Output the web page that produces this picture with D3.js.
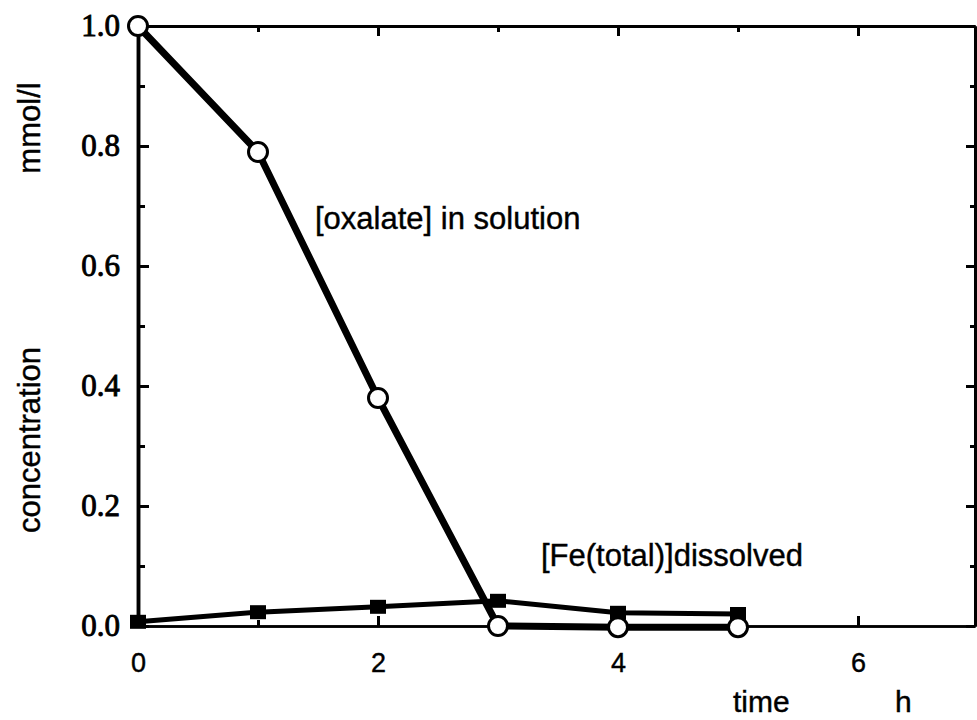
<!DOCTYPE html>
<html>
<head>
<meta charset="utf-8">
<script src="https://cdn.jsdelivr.net/npm/d3@7"></script>
<style>
  html, body { margin: 0; padding: 0; background: #fff; }
  svg { display: block; }
</style>
</head>
<body>
<svg id="chart" width="977" height="720"></svg>
<script>
// ---- data ----
const timeH = [0, 1, 2, 3, 4, 5];
const oxalate = [1.0, 0.79, 0.38, 0.0, -0.002, -0.002];
const feTotal = [0.007, 0.023, 0.032, 0.042, 0.022, 0.02];
const yMajorTicks = [0, 0.2, 0.4, 0.6, 0.8, 1.0];
const yMinorTicks = [0.1, 0.3, 0.5, 0.7, 0.9];
const xMajorTicks = [0, 2, 4, 6];
const xMinorTicks = [1, 3, 5];
const xTickLabels = ["0", "2", "4", "6"];

const svg = d3.select("#chart");
const x = d3.scaleLinear().domain([0, 6.975]).range([138, 975]);
const y = d3.scaleLinear().domain([0, 1]).range([626, 26]);

const sans = "'Liberation Sans', Arial, Helvetica, sans-serif";
const serif = "'Liberation Serif', 'Times New Roman', serif";

function styleAxis(g, w) {
  g.select(".domain").attr("stroke", "#000").attr("stroke-width", w);
  g.selectAll(".tick line").attr("stroke", "#000").attr("stroke-width", 3);
}

// left axis
const gLeft = svg.append("g").attr("transform", `translate(${x(0)},0)`)
  .call(d3.axisLeft(y).tickValues(yMajorTicks).tickSize(-11).tickSizeOuter(0)
    .tickPadding(18).tickFormat(d3.format(".1f")));
styleAxis(gLeft, 3.5);
gLeft.selectAll(".tick text")
  .attr("font-family", serif).attr("font-size", 31).attr("fill", "#000")
  .attr("stroke", "#000").attr("stroke-width", 0.9);
const gLeftMin = svg.append("g").attr("transform", `translate(${x(0)},0)`)
  .call(d3.axisLeft(y).tickValues(yMinorTicks).tickSize(-7).tickSizeOuter(0).tickFormat(""));
styleAxis(gLeftMin, 3.5);

// right axis
const gRight = svg.append("g").attr("transform", `translate(${x.range()[1]},0)`)
  .call(d3.axisRight(y).tickValues(yMajorTicks).tickSize(-9).tickSizeOuter(0).tickFormat(""));
styleAxis(gRight, 3);
const gRightMin = svg.append("g").attr("transform", `translate(${x.range()[1]},0)`)
  .call(d3.axisRight(y).tickValues(yMinorTicks).tickSize(-5).tickSizeOuter(0).tickFormat(""));
styleAxis(gRightMin, 3);

// bottom axis
const gBottom = svg.append("g").attr("transform", `translate(0,${y(0)})`)
  .call(d3.axisBottom(x).tickValues(xMajorTicks).tickSize(-10).tickSizeOuter(0)
    .tickPadding(27).tickFormat((d, i) => xTickLabels[i]));
styleAxis(gBottom, 2.5);
gBottom.selectAll(".tick text")
  .attr("font-family", sans).attr("font-size", 27).attr("fill", "#000")
  .attr("stroke", "#000").attr("stroke-width", 0.4);
const gBottomMin = svg.append("g").attr("transform", `translate(0,${y(0)})`)
  .call(d3.axisBottom(x).tickValues(xMinorTicks).tickSize(-6).tickSizeOuter(0).tickFormat(""));
styleAxis(gBottomMin, 2.5);

// top axis
const gTop = svg.append("g").attr("transform", `translate(0,${y(1)})`)
  .call(d3.axisTop(x).tickValues(xMajorTicks).tickSize(-10).tickSizeOuter(0).tickFormat(""));
styleAxis(gTop, 3);
const gTopMin = svg.append("g").attr("transform", `translate(0,${y(1)})`)
  .call(d3.axisTop(x).tickValues(xMinorTicks).tickSize(-6).tickSizeOuter(0).tickFormat(""));
styleAxis(gTopMin, 3);

// lines
const feData = timeH.map((t, i) => ({ t, v: feTotal[i] }));
const oxData = timeH.map((t, i) => ({ t, v: oxalate[i] }));
const line = d3.line().x(d => x(d.t)).y(d => y(d.v));

svg.append("path").datum(feData).attr("d", line)
  .attr("fill", "none").attr("stroke", "#000").attr("stroke-width", 5);
svg.append("path").datum(oxData).attr("d", line)
  .attr("fill", "none").attr("stroke", "#000").attr("stroke-width", 7)
  .attr("stroke-linejoin", "round");

svg.selectAll("rect.fe").data(feData).join("rect").attr("class", "fe")
  .attr("x", d => x(d.t) - 8).attr("y", d => y(d.v) - 7)
  .attr("width", 16).attr("height", 14).attr("fill", "#000");

svg.selectAll("circle.ox").data(oxData).join("circle").attr("class", "ox")
  .attr("cx", d => x(d.t)).attr("cy", d => y(d.v)).attr("r", 9.5)
  .attr("fill", "#fff").attr("stroke", "#000").attr("stroke-width", 3);

// annotations
const txt = (sel) => sel.attr("font-family", sans).attr("fill", "#000")
  .attr("stroke", "#000").attr("stroke-width", 0.4);
svg.append("text").attr("x", 315).attr("y", 229).attr("font-size", 31)
  .call(txt).text("[oxalate] in solution");
svg.append("text").attr("x", 541).attr("y", 566).attr("font-size", 31)
  .call(txt).text("[Fe(total)]dissolved");

// axis titles
svg.append("text").attr("x", 733).attr("y", 712).attr("font-size", 30)
  .call(txt).text("time");
svg.append("text").attr("x", 895).attr("y", 712).attr("font-size", 30)
  .call(txt).text("h");
svg.append("text").attr("transform", "translate(40,440) rotate(-90)")
  .attr("text-anchor", "middle").attr("font-size", 31)
  .call(txt).text("concentration");
svg.append("text").attr("transform", "translate(40,128) rotate(-90)")
  .attr("text-anchor", "middle").attr("font-size", 31)
  .call(txt).text("mmol/l");
</script>
</body>
</html>
